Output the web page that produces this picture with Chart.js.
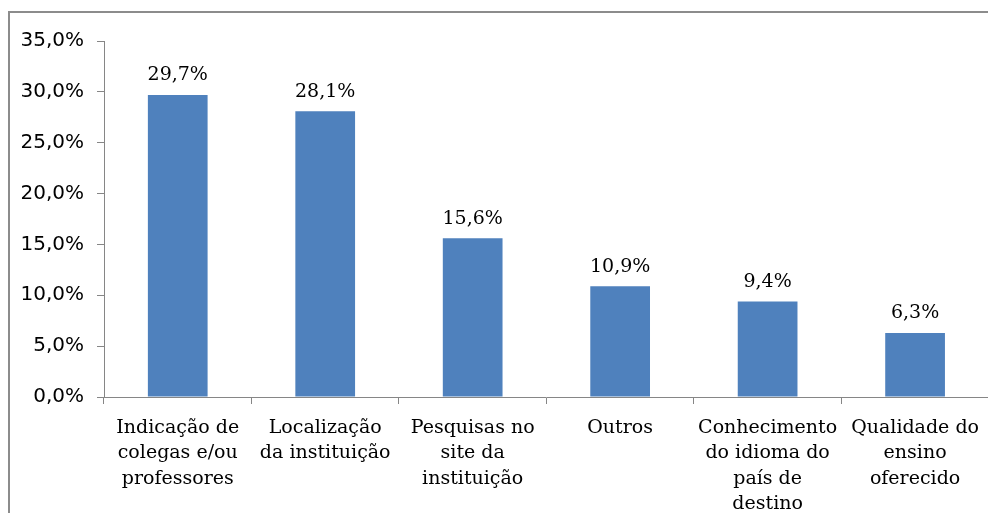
<!DOCTYPE html>
<html>
<head>
<meta charset="utf-8">
<script src="https://cdn.jsdelivr.net/npm/chart.js@4/dist/chart.umd.min.js"></script>
<style>
  html, body { margin: 0; padding: 0; background: #fff; overflow: hidden; }
  #wrap { position: relative; width: 988px; height: 513px; overflow: hidden; }
  #box { position: absolute; left: 0; top: 0; width: 990px; height: 513px; }
</style>
</head>
<body>
<div id="wrap">
  <div id="box"><canvas id="motivosChart"></canvas></div>
</div>
<script>
const categories = [
    ['Indicação de', 'colegas e/ou', 'professores'],
    ['Localização', 'da instituição'],
    ['Pesquisas no', 'site da', 'instituição'],
    ['Outros'],
    ['Conhecimento', 'do idioma do', 'país de', 'destino'],
    ['Qualidade do', 'ensino', 'oferecido']
];
const percentages = [29.7, 28.1, 15.6, 10.9, 9.4, 6.3];
const yTicks = [0, 5, 10, 15, 20, 25, 30, 35];

const barBlue = '#4F81BD';
const axisGray = '#868686';

function fmtPct(v) {
    return v.toFixed(1).replace('.', ',') + '%';
}

// outer chart frame (only left and top edges are visible in the crop)
const chartFrame = {
    id: 'chartFrame',
    beforeDraw(chart) {
        const c = chart.ctx;
        c.save();
        c.fillStyle = '#8c8c8c';
        c.fillRect(8, 11, 2, chart.height);
        c.fillRect(8, 11, chart.width, 2);
        c.restore();
    }
};

// value labels above each bar
const barLabels = {
    id: 'barLabels',
    afterDatasetsDraw(chart) {
        const c = chart.ctx;
        const meta = chart.getDatasetMeta(0);
        c.save();
        c.font = '19px "DejaVu Serif"';
        c.fillStyle = '#000';
        c.textAlign = 'center';
        c.textBaseline = 'bottom';
        meta.data.forEach(function (bar, i) {
            c.fillText(fmtPct(percentages[i]), bar.x, bar.y - 10);
        });
        c.restore();
    }
};

const ctx = document.getElementById('motivosChart').getContext('2d');
new Chart(ctx, {
    type: 'bar',
    data: {
        labels: categories,
        datasets: [{
            data: percentages,
            backgroundColor: barBlue,
            borderWidth: 0,
            barPercentage: 0.405,
            categoryPercentage: 1
        }]
    },
    options: {
        responsive: true,
        maintainAspectRatio: false,
        animation: false,
        layout: { padding: { top: 41, left: 0, right: 0, bottom: 0 } },
        plugins: {
            legend: { display: false },
            tooltip: { enabled: false }
        },
        scales: {
            y: {
                min: 0,
                max: 35,
                afterBuildTicks: function (scale) {
                    scale.ticks = yTicks.map(v => ({ value: v }));
                },
                afterFit: function (scale) { scale.width = 104; },
                grid: { drawOnChartArea: false, color: axisGray, tickLength: 7 },
                border: { color: axisGray, width: 1 },
                ticks: {
                    color: '#000',
                    padding: 13,
                    font: { family: 'DejaVu Sans', size: 20 },
                    callback: v => fmtPct(v)
                }
            },
            x: {
                afterFit: function (scale) { scale.height = 116; },
                grid: { drawOnChartArea: false, offset: true, color: axisGray, tickLength: 7 },
                border: { color: axisGray, width: 1 },
                ticks: {
                    color: '#000',
                    padding: 11,
                    maxRotation: 0,
                    autoSkip: false,
                    font: { family: 'DejaVu Serif', size: 19, lineHeight: 1.34 }
                }
            }
        }
    },
    plugins: [chartFrame, barLabels]
});
</script>
</body>
</html>
